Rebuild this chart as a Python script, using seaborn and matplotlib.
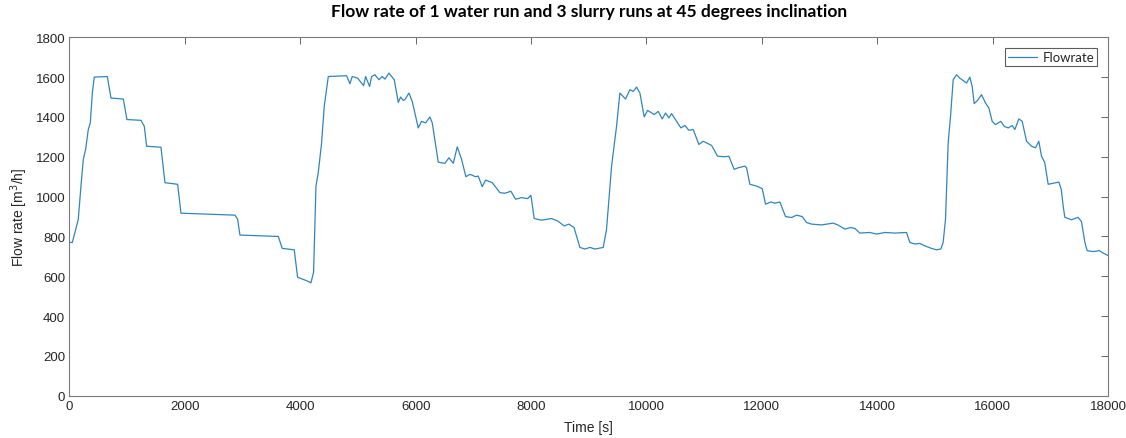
import matplotlib
matplotlib.use("Agg")
import matplotlib.pyplot as plt
import seaborn as sns
import pandas as pd

# Measured flow rate over time (s, m^3/h)
time_s = [
    0, 49, 95, 153, 199, 240, 280, 326, 361, 396, 430, 656, 719, 933, 996,
    1239, 1297, 1337, 1586, 1655, 1875, 1932, 2868, 2914, 2955, 3619, 3688,
    3896, 3954, 4110, 4185, 4231, 4272, 4312, 4370, 4416, 4486, 4803, 4861,
    4901, 4994, 5098, 5133, 5202, 5237, 5294, 5364, 5421, 5468, 5537, 5629,
    5699, 5739, 5785, 5814, 5884, 5941, 6045, 6103, 6172, 6247, 6288, 6392,
    6507, 6577, 6652, 6721, 6796, 6871, 6941, 7039, 7085, 7154, 7212, 7328,
    7461, 7547, 7651, 7732, 7836, 7940, 7998, 8055, 8183, 8356, 8460, 8575,
    8656, 8745, 8847, 8934, 9020, 9107, 9251, 9309, 9396, 9482, 9540, 9638,
    9713, 9771, 9829, 9887, 9962, 10020, 10135, 10204, 10274, 10332, 10389,
    10436, 10522, 10597, 10667, 10736, 10811, 10909, 10984, 11129, 11233,
    11360, 11429, 11521, 11591, 11706, 11735, 11793, 11909, 12007, 12065,
    12157, 12226, 12313, 12411, 12515, 12602, 12700, 12775, 12862, 13035,
    13237, 13324, 13439, 13543, 13613, 13699, 13873, 13988, 14133, 14306,
    14508, 14566, 14653, 14739, 14826, 14941, 15028, 15103, 15143, 15184,
    15230, 15271, 15317, 15375, 15432, 15490, 15548, 15606, 15646, 15681,
    15739, 15808, 15877, 15935, 15993, 16050, 16143, 16201, 16270, 16339,
    16386, 16455, 16513, 16588, 16675, 16744, 16801, 16848, 16905, 16963,
    17050, 17148, 17190, 17223, 17252, 17368, 17483, 17541, 17599, 17639,
    17743, 17847, 17916, 18000,
]
flowrate = [
    770, 770, 820, 887, 1053, 1187, 1237, 1337, 1370, 1520, 1600, 1603, 1495,
    1490, 1387, 1383, 1353, 1253, 1248, 1070, 1062, 917, 907, 887, 807, 800,
    740, 733, 595, 578, 567, 620, 1053, 1120, 1270, 1453, 1603, 1607, 1567,
    1603, 1595, 1557, 1603, 1553, 1603, 1612, 1587, 1603, 1590, 1620, 1587,
    1473, 1500, 1483, 1487, 1520, 1478, 1345, 1378, 1370, 1400, 1370, 1173,
    1167, 1195, 1167, 1250, 1187, 1100, 1112, 1100, 1103, 1050, 1083, 1070,
    1020, 1017, 1027, 987, 995, 990, 1007, 890, 882, 890, 878, 853,
    862, 845, 745, 737, 745, 737, 745, 837, 1153, 1353, 1520, 1490,
    1537, 1528, 1550, 1520, 1400, 1433, 1412, 1428, 1390, 1420, 1395,
    1417, 1378, 1345, 1357, 1333, 1337, 1262, 1278, 1257, 1203,
    1200, 1203, 1137, 1145, 1153, 1145, 1062, 1053, 1040, 962,
    973, 967, 973, 900, 895, 907, 900, 870, 862, 858,
    867, 857, 837, 845, 840, 817, 820, 812, 820, 817,
    820, 770, 762, 765, 753, 740, 733, 737, 770, 887,
    1270, 1403, 1587, 1612, 1595, 1583, 1570, 1600, 1553, 1467,
    1483, 1512, 1470, 1445, 1378, 1362, 1378, 1353, 1345, 1357,
    1337, 1390, 1378, 1278, 1253, 1245, 1278, 1203, 1170, 1062,
    1067, 1073, 1037, 953, 896, 884, 896, 874, 771, 729,
    724, 729, 717, 704,
]

x_ticks = list(range(0, 18001, 2000))
y_ticks = list(range(0, 1801, 200))

df = pd.DataFrame({"Time": time_s, "Flowrate": flowrate})

sns.set_theme(style="white")
plt.rcParams["font.family"] = ["Liberation Sans", "DejaVu Sans"]
plt.rcParams["xtick.direction"] = "in"
plt.rcParams["ytick.direction"] = "in"

fig = plt.figure(figsize=(11.26, 4.39), dpi=100)
ax = fig.add_axes([0.0617, 0.0961, 0.9223, 0.8167])

sns.lineplot(data=df, x="Time", y="Flowrate", ax=ax, color="#2f86bd",
             linewidth=0.9, label="Flowrate", sort=False)

axis_grey = "#262626"
ax.set_xlim(0, 18000)
ax.set_ylim(0, 1800)
ax.set_xticks(x_ticks)
ax.set_yticks(y_ticks)
ax.tick_params(axis="both", which="both", direction="in", length=5,
               width=0.6, colors="#4d4d4d", labelcolor=axis_grey,
               labelsize=9.5, top=True, right=True, pad=3)
for spine in ax.spines.values():
    spine.set_visible(True)
    spine.set_color("#7a7a7a")
    spine.set_linewidth(0.8)

ax.set_xlabel("Time [s]", fontsize=10, color=axis_grey, labelpad=6)
ax.set_ylabel("Flow rate [m$^3$/h]", fontsize=10, color=axis_grey, labelpad=4)
ax.set_title("Flow rate of 1 water run and 3 slurry runs at 45 degrees inclination",
             fontsize=12.5, fontweight="bold", family=["Lato", "DejaVu Sans"],
             color="black", pad=15)

leg = ax.legend(loc="upper right", frameon=True, fancybox=False,
                borderpad=0.25, handlelength=2.2, handletextpad=0.4,
                borderaxespad=0.8, prop={"family": ["Lato", "DejaVu Sans"], "size": 9.5})
leg.get_frame().set_edgecolor("#333333")
leg.get_frame().set_linewidth(0.8)

fig.savefig("out.png", dpi=100, facecolor="white")
